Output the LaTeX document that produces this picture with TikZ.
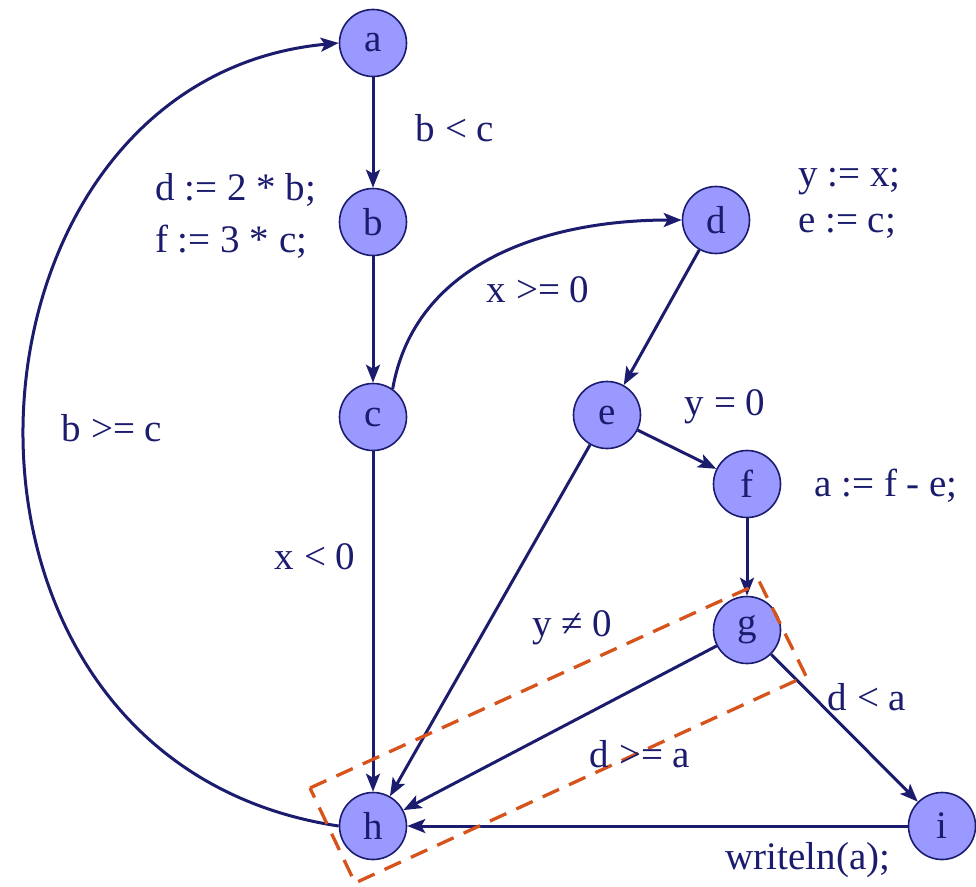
\documentclass[tikz,border=0pt]{standalone}
\usepackage{fontspec}
\setmainfont{Liberation Serif}
\usetikzlibrary{arrows.meta}
\definecolor{navy}{RGB}{28,28,110}
\definecolor{nfill}{RGB}{153,153,255}
\definecolor{dorange}{RGB}{214,84,28}
\begin{document}
\begin{tikzpicture}[x=1pt,y=-1pt,
  every node/.style={text=navy,font=\fontsize{39}{46}\selectfont},
  vert/.style={circle,draw=navy,fill=nfill,line width=1.6pt,minimum size=67pt,inner sep=0pt},
  edge/.style={draw=navy,line width=3pt,-{Stealth[length=18pt,width=14pt,inset=4pt]}},
  lbl/.style={inner sep=0pt}]
\useasboundingbox (0,0) rectangle (976,886);
\node[vert] (a) at (373,43) {a};
\node[vert] (b) at (373,222) {b};
\node[vert] (c) at (373,417) {c};
\node[vert] (d) at (716,220) {d};
\node[vert] (e) at (607,415) {e};
\node[vert] (f) at (747,484) {f};
\node[vert] (g) at (747,630) {g};
\node[vert] (h) at (373,826) {h};
\node[vert] (i) at (942,826) {i};
\draw[edge] (a) -- (b);
\draw[edge] (b) -- (c);
\draw[edge] (c.55) to[out=80,in=180] (d.west);
\draw[edge] (d) -- (e);
\draw[edge] (e) -- (f);
\draw[edge] (e) -- (h);
\draw[edge] (c) -- (h);
\draw[edge] (f) -- (g);
\draw[edge] (g) -- (h);
\draw[edge] (g) -- (i);
\draw[edge] (i) -- (h);
\draw[edge] (h.west) .. controls (-100,760) and (-60,80) .. (a.west);
\coordinate (r1) at (310,788);
\coordinate (r2) at (760,583);
\coordinate (r3) at (806,676);
\coordinate (r4) at (355,883);
\draw[dorange,line width=3.3pt,dash pattern=on 18pt off 11pt] (r1) -- (r2) -- (r3) -- (r4) -- cycle;
\node[lbl] (l1) at (455,128) {b < c};
\node[lbl,anchor=west,align=left,font=\fontsize{39}{52}\selectfont] (l2) at (155,216) {d := 2 * b;\\f := 3 * c;};
\node[lbl,anchor=west,align=left,font=\fontsize{39}{46}\selectfont] (l3) at (798,203) {y := x;\\e := c;};
\node[lbl] (l4) at (538,290) {x >= 0};
\node[lbl] (l5) at (725,407) {y = 0};
\node[lbl] (l6) at (112,428) {b >= c};
\node[lbl] (l7) at (886,486) {a := f - e;};
\node[lbl] (l8) at (315,557) {x < 0};
\node[lbl] (l9) at (572,628) {y ≠ 0};
\node[lbl] (l10) at (867,697) {d < a};
\node[lbl] (l11) at (640,754) {d >= a};
\node[lbl] (l12) at (808,860) {writeln(a);};
\end{tikzpicture}
\end{document}
